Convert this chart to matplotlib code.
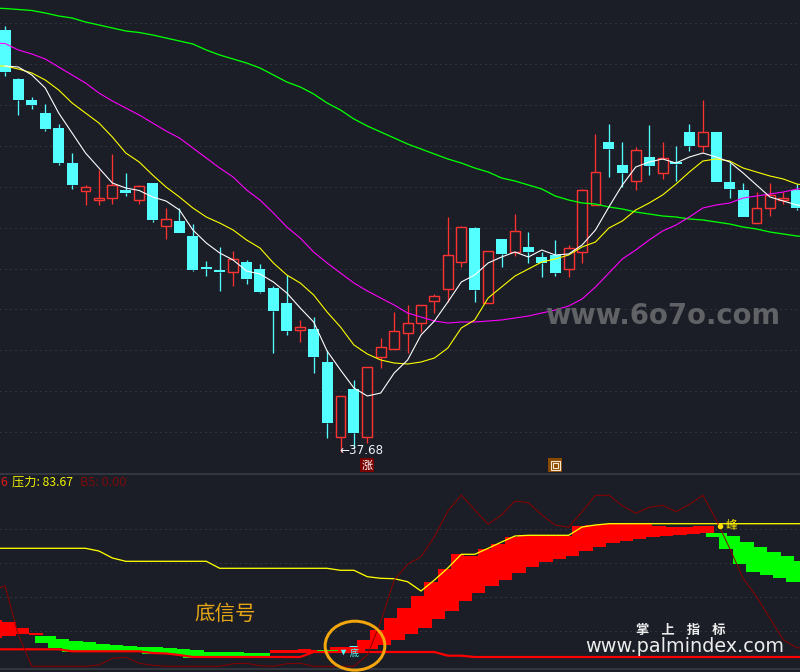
#!/usr/bin/env python3

import numpy

import matplotlib
matplotlib.use("Agg")
import matplotlib.pyplot as plt
from matplotlib.patches import Ellipse

## DATA

# candles, one value per session
opens = [79.6, 74.7, 72.6, 71.3, 69.8, 66.3, 63.5, 62.6, 62.8, 63.6,
	62.6, 64.3, 60.0, 60.5, 59.0, 55.9, 55.6, 55.4, 56.4, 55.7,
	53.8, 52.3, 49.6, 49.7, 46.4, 38.9, 43.7, 38.9, 46.9, 47.7,
	49.3, 50.3, 52.5, 53.7, 56.4, 59.8, 52.3, 58.7, 57.4, 57.9,
	56.9, 57.1, 55.7, 57.4, 62.1, 68.4, 66.1, 64.5, 66.9, 65.3,
	66.4, 69.4, 68.0, 69.4, 64.4, 63.6, 60.3, 61.8, 62.6, 63.6]
highs = [80.0, 74.8, 72.9, 72.2, 70.2, 67.3, 64.1, 65.6, 67.2, 65.3,
	64.1, 64.3, 61.8, 61.8, 60.2, 56.5, 57.9, 57.5, 56.6, 56.2,
	54.0, 55.1, 50.6, 50.9, 47.6, 43.0, 44.6, 45.9, 48.8, 51.4,
	52.1, 52.1, 53.2, 60.9, 60.0, 59.9, 57.5, 58.7, 61.2, 59.4,
	57.4, 58.6, 58.1, 63.7, 69.2, 70.2, 68.4, 67.9, 70.1, 68.4,
	68.0, 70.2, 72.6, 69.4, 66.3, 64.3, 63.4, 64.3, 63.4, 64.2]
lows = [75.0, 71.1, 71.7, 69.5, 66.1, 63.7, 62.1, 62.1, 62.2, 63.0,
	62.2, 60.4, 58.7, 59.3, 55.5, 55.0, 53.5, 54.0, 54.2, 53.3,
	47.3, 49.1, 48.4, 45.3, 38.8, 37.4, 37.8, 38.3, 45.8, 47.7,
	47.3, 49.4, 51.3, 52.4, 55.9, 52.4, 52.3, 55.9, 57.0, 56.3,
	54.9, 55.0, 54.9, 56.3, 62.1, 64.9, 63.9, 63.6, 65.1, 64.7,
	64.5, 67.5, 67.4, 64.4, 62.8, 60.9, 60.3, 61.0, 62.2, 61.6]
closes = [75.4, 72.6, 72.1, 69.7, 66.3, 64.1, 63.9, 62.8, 64.1, 63.3,
	64.0, 60.6, 60.7, 59.3, 55.6, 55.7, 55.4, 56.7, 54.7, 53.4,
	51.5, 49.5, 49.9, 46.9, 40.3, 43.0, 39.3, 45.9, 47.9, 49.5,
	50.3, 52.1, 53.0, 57.1, 59.9, 53.6, 57.5, 57.2, 59.5, 57.4,
	56.3, 55.3, 57.8, 63.6, 65.4, 67.7, 65.3, 67.6, 66.0, 66.8,
	66.2, 68.0, 69.4, 64.4, 63.7, 60.9, 61.8, 63.1, 62.8, 61.8]

# moving averages, first and last entries run off the two sides of the window
ma_white = [numpy.nan, 76.0, 75.9, 75.1, 73.8, 71.3, 69.3, 67.3, 65.8, 64.3, 63.8,
	63.55, 62.9, 62.5, 61.6, 59.6, 58.3, 57.3, 56.6, 55.5, 55.2,
	54.4, 53.3, 51.8, 50.4, 47.5, 45.6, 43.8, 43.0, 43.3, 45.3,
	46.6, 49.1, 50.5, 52.4, 54.4, 55.1, 56.3, 56.9, 57.4, 56.9,
	57.6, 57.1, 57.2, 58.1, 59.6, 61.9, 64.1, 65.9, 66.4, 66.7,
	66.3, 66.9, 67.3, 66.9, 66.4, 65.3, 64.1, 62.9, 62.5, 62.1, 61.9]
ma_yellow = [76.0, 76.0, 75.7, 75.3, 74.6, 73.6, 72.3, 71.3, 70.3, 68.9, 67.3,
	66.4, 65.1, 63.9, 62.9, 61.8, 60.9, 60.3, 59.6, 58.6, 57.8,
	56.3, 55.1, 54.3, 53.1, 51.4, 49.9, 48.1, 47.2, 46.6, 46.3,
	46.2, 46.4, 46.8, 47.8, 49.8, 50.6, 52.8, 53.9, 55.0, 55.7,
	56.4, 56.7, 57.1, 57.9, 58.4, 59.8, 60.5, 61.6, 62.3, 63.1,
	64.2, 65.4, 66.5, 66.7, 66.5, 65.8, 65.4, 65.0, 64.7, 64.2, 64.0]
ma_magenta = [78.3, 78.25, 77.6, 77.2, 76.7, 75.9, 75.1, 74.3, 73.3, 72.5, 71.8,
	71.1, 70.3, 69.5, 68.8, 67.8, 66.8, 65.8, 64.9, 63.6, 62.6,
	61.3, 59.9, 58.8, 57.4, 56.3, 55.3, 54.3, 53.5, 52.8, 52.1,
	51.3, 50.9, 50.5, 50.3, 50.4, 50.4, 50.5, 50.6, 50.8, 51.0,
	51.3, 51.6, 52.0, 52.7, 53.9, 55.3, 56.7, 57.6, 58.6, 59.5,
	60.1, 60.9, 61.8, 62.1, 62.3, 62.8, 63.0, 63.2, 63.4, 63.7, 63.8]
ma_green = [81.8, 81.75, 81.65, 81.55, 81.3, 81.0, 80.8, 80.4, 80.1, 79.8, 79.5,
	79.35, 79.1, 78.8, 78.5, 78.2, 77.6, 77.1, 76.7, 76.3, 75.8,
	75.1, 74.4, 73.9, 73.2, 72.3, 71.6, 70.7, 70.0, 69.4, 68.8,
	68.2, 67.7, 67.2, 66.7, 66.3, 65.8, 65.4, 64.8, 64.5, 64.1,
	63.7, 63.0, 62.6, 62.3, 62.2, 61.9, 61.7, 61.4, 61.2, 61.0,
	60.9, 60.7, 60.6, 60.4, 60.2, 59.9, 59.7, 59.4, 59.2, 59.0, 58.9]

grid_prices = [80.3, 76.2, 72.1, 68.0, 63.9, 59.8, 55.7, 51.7, 47.6, 43.5, 39.4]
grid_levels = [135.7, 101.7, 67.7, 33.7]

# indicator lines
pressure = [116.7, 116.7, 116.7, 116.7, 116.7, 116.7, 116.7, 116.7, 114, 107, 103.7,
	103.7, 103.7, 103.7, 103.7, 103.7, 103.7, 96.7, 96.7, 96.7, 96.7,
	96.7, 96.7, 96.7, 96.7, 96.7, 94.7, 94.7, 88.3, 86.7, 86.3,
	83.3, 74, 85, 97, 110.7, 110.7, 116.7, 123, 129, 129.7,
	129.7, 129.7, 129.7, 138, 140, 141.3, 141.3, 141.3, 141.3, 141.3,
	141.3, 141.3, 141.3, 141.3, 141.3, 141.3, 141.3, 141.3, 141.3, 141.3, 141.3]
thin_line = [74, 79.3, 30, -1.3, -1.3, -1.3, -1.3, -1.3, 0, 6.7, 7.7,
	1.7, -0.3, -1.3, -1.3, -1.3, -1.3, -1.3, 1.3, 1.7, -0.7,
	-1.3, 1.3, 1.7, -1.3, -1.3, -1.3, -1.3, 10, 43.3, 85,
	100.7, 108.3, 128.3, 154, 170, 155, 140.7, 150, 164, 162.3,
	150, 140, 137.7, 153.3, 169.7, 169.7, 159.3, 151.7, 157.7, 159.7,
	153.3, 160.7, 169.7, 145, 116.7, 86.7, 68.3, 46.7, 25, 17.3, 16]
base_line = [15.7, 15.7, 15.7, 15.7, 15.7, 15.7, 13.7, 13.7, 13.7, 13.7, 13.7,
	13.7, 12, 11.5, 10, 8, 8, 8, 8, 8, 8,
	8, 8, 8, 13, 13, 13, 13, 13, 13, 13,
	13, 13, 13, 9.3, 9.3, 8, 8, 8, 8, 8,
	8, 8, 8, 8, 8, 8, 8, 8, 8, 8,
	8, 8, 8, 8, 8, 8, 8, 8, 8, 8, 8]

# stepped bands: top values, bottom values
red_head_tops = [45, 43.3, 37, 31.7]
red_head_bots = [26.7, 29.3, 30.7, 30]
red_small_tops = [15, 15, 15.7, 15, 15]
red_small_bots = [11.7, 11.7, 11.7, 11.7, 11.7]
red_main_tops = [17.7, 17.7, 25, 34.7, 47, 57, 69, 83, 96, 111, 109.3, 116, 121, 128, 129.7,
	129.7, 129, 129, 139, 140, 141, 141.7, 141, 141, 139.3, 138.3, 138.5, 139, 139]
red_main_bots = [14, 14, 14, 16, 20, 25, 31, 37, 46, 54, 64, 72, 79, 85, 92,
	98, 103, 106, 109, 114, 118, 122, 124, 126, 128, 129, 130, 131, 132]
green_left_tops = [29, 29, 26, 24, 22.7, 21, 19.7, 18.7, 18, 18, 17, 16, 15, 13, 13, 13, 12.3, 11.7]
green_left_bots = [22.3, 17, 13.3, 13.3, 13.3, 13.3, 13.3, 13.3, 11, 11, 10.3, 7.3, 7.3, 7.3, 8.3, 8.3, 8.3, 8.3]
green_small_tops = [14.7, 14.7]
green_small_bots = [12.3, 12.3]
green_right_tops = [132, 132, 129, 123, 118, 113, 109, 104]
green_right_bots = [128, 116, 101, 93, 90, 87, 83, 83]

## STYLE

BG = "#1b1e27"
RED = "#ff3232"
CYAN = "#54ffff"
GRID = "#45484f"
SEP = "#3a3f48"
CJK = ["Noto Sans CJK SC", "DejaVu Sans"]
PX = 0.72

## PLOT

def _plot_candles(ax):
	for i, (o, h, l, c) in enumerate(zip(opens, highs, lows, closes)):
		up = c >= o
		color = RED if up else CYAN
		top, bot = max(o, c), min(o, c)
		ax.vlines(i, top, h, color = color, lw = PX * 1.3)
		ax.vlines(i, l, bot, color = color, lw = PX * 1.3)
		if up:
			ax.bar(i, top - bot, bottom = bot, width = 0.74, facecolor = BG, edgecolor = color, linewidth = PX * 1.4, zorder = 2)
		else:
			ax.bar(i, top - bot, bottom = bot, width = 0.82, color = color, linewidth = 0, zorder = 2)

def _plot_line(ax, ys, color, lw = 1.0):
	xs = numpy.arange(len(ys)) - 1
	ax.plot(xs, ys, "-", color = color, lw = lw * PX, zorder = 3)

def _plot_band(ax, first, tops, bots, top_off, bot_off, start, end, color):
	top_edges = first + numpy.arange(len(tops)) + top_off
	bot_edges = first + numpy.arange(len(bots)) + bot_off
	xs = numpy.concatenate((top_edges, bot_edges, [start, end]))
	xs = numpy.unique(xs[(xs >= start) & (xs <= end)])
	top_i = numpy.clip(numpy.searchsorted(top_edges, xs, side = "right") - 1, 0, len(tops) - 1)
	bot_i = numpy.clip(numpy.searchsorted(bot_edges, xs, side = "right") - 1, 0, len(bots) - 1)
	ax.fill_between(
		xs, numpy.array(tops)[top_i], numpy.array(bots)[bot_i],
		step = "post", color = color, lw = 0, antialiased = False, zorder = 2
	)

def _plot_grid(ax, levels):
	for y in levels:
		ax.axhline(y, color = GRID, lw = PX, linestyle = (0, (1, 4)), zorder = 1)

def plot_main(ax):
	_plot_grid(ax, grid_prices)
	_plot_candles(ax)
	_plot_line(ax, ma_green, "#00ff00", 1.3)
	_plot_line(ax, ma_magenta, "#ff00ff", 1.1)
	_plot_line(ax, ma_yellow, "#ffff00", 1.1)
	_plot_line(ax, ma_white, "#ffffff", 1.1)

	# lowest price tag
	ax.text(24.95, 37.6, "\u219037.68", color = "#eef3fb", fontsize = 8.6, family = "DejaVu Sans", va = "center", ha = "left", zorder = 5)

	# signal boxes under the candles
	ax.scatter([27], [36.05], marker = "s", s = 88, color = "#7a0000", linewidths = 0, zorder = 4)
	ax.text(27, 36.03, "涨", color = "white", fontsize = 8, family = CJK, va = "center", ha = "center", zorder = 5)
	ax.scatter([41], [36.05], marker = "s", s = 88, color = "#8a4a00", linewidths = 0, zorder = 4)
	ax.scatter([41], [36.05], marker = "s", s = 42, facecolor = "none", edgecolor = "#f4e6d0", linewidths = 0.8, zorder = 5)
	ax.scatter([41], [36.05], marker = "s", s = 12, facecolor = "none", edgecolor = "#f4e6d0", linewidths = 0.8, zorder = 5)

def plot_indicator(ax):
	_plot_grid(ax, grid_levels)
	ax.axhline(191.5, color = SEP, lw = 1.5 * PX, zorder = 1)
	ax.axhline(-4, color = SEP, lw = 1.5 * PX, zorder = 1)

	_plot_band(ax, -1, red_head_tops, red_head_bots, -0.2, -0.2, -0.5, 2.8, "#ff0000")
	_plot_band(ax, 20, red_small_tops, red_small_bots, -0.2, -0.2, 19.75, 24.2, "#ff0000")
	_plot_band(ax, 24, red_main_tops, red_main_bots, 0.23, -0.2, 24.2, 52.83, "#ff0000")
	_plot_band(ax, 2, green_left_tops, green_left_bots, -0.2, 0.23, 2.24, 19.75, "#00ff00")
	_plot_band(ax, 23, green_small_tops, green_small_bots, -0.2, 0.23, 23.25, 24.8, "#00ff00")
	_plot_band(ax, 52, green_right_tops, green_right_bots, -0.2, 0.23, 52.2, 59.3, "#00ff00")

	_plot_line(ax, base_line, "#ff0000", 2.2)
	_plot_line(ax, pressure, "#ffff00", 1.3)
	_plot_line(ax, thin_line, "#8a0000", 1.0)

	# bottom signal, circled
	ax.scatter([25.2], [13.2], marker = "v", s = 16, color = CYAN, linewidths = 0, zorder = 5)
	ax.hlines(19, 25.6, 26.2, color = CYAN, lw = PX, zorder = 5)
	ax.text(26, 11.5, "底", color = CYAN, fontsize = 6.5, family = CJK, va = "center", ha = "center", zorder = 5)
	ax.add_patch(Ellipse((26.08, 19.3), 4.45, 49, fill = False, edgecolor = "#f4a70c", lw = 3 * PX, zorder = 6))

	# top signal
	ax.scatter([53.3], [139.5], marker = "o", s = 16, color = "#ffe000", linewidths = 0, zorder = 5)
	ax.text(54.1, 139.5, "峰", color = "#ffe800", fontsize = 8.5, family = CJK, va = "center", ha = "center", zorder = 5)

def _fig_text(fig, x, y, text, **kw):
	kw.setdefault("va", "center")
	kw.setdefault("ha", "left")
	fig.text(x / 800, 1 - y / 672, text, zorder = 10, **kw)

def plot_labels(fig):
	_fig_text(fig, 0, 482, "6", color = "#e01818", fontsize = 8.8, family = CJK)
	_fig_text(fig, 12, 482, "压力: 83.67", color = "#f0f000", fontsize = 8.8, family = CJK)
	_fig_text(fig, 80, 482, "B5: 0.00", color = "#7a0a0a", fontsize = 9.2, family = CJK)
	_fig_text(fig, 194, 614, "底信号", color = "#e6a514", fontsize = 14.8, family = CJK)

	_fig_text(fig, 545, 316, "www.6o7o.com", color = "#616266", fontsize = 19.8, family = "DejaVu Sans", weight = "bold")
	_fig_text(fig, 636, 630, "掌    上    指    标", color = "#ededed", fontsize = 9.6, family = CJK, weight = "bold")
	_fig_text(fig, 585, 647, "www.palmindex.com", color = "#ececec", fontsize = 13.9, family = "DejaVu Sans")

## MAIN

if __name__ == "__main__":
	fig = plt.figure(figsize = (8, 6.72), dpi = 100, facecolor = BG)

	ax_main = fig.add_axes([0, 200 / 672, 1, 472 / 672])
	ax_ind = fig.add_axes([0, 0, 1, 199 / 672])

	for ax in (ax_main, ax_ind):
		ax.set_facecolor(BG)
		ax.set_xlim(-5 / 13.42, 795 / 13.42)
		ax.set_xticks([])
		ax.set_yticks([])
		for spine in ax.spines.values():
			spine.set_visible(False)
	ax_main.set_ylim(35.4, 82.6)
	ax_ind.set_ylim(-7, 192)

	plot_main(ax_main)
	plot_indicator(ax_ind)
	plot_labels(fig)

	fig.savefig("out.png", dpi = 100, facecolor = BG)
